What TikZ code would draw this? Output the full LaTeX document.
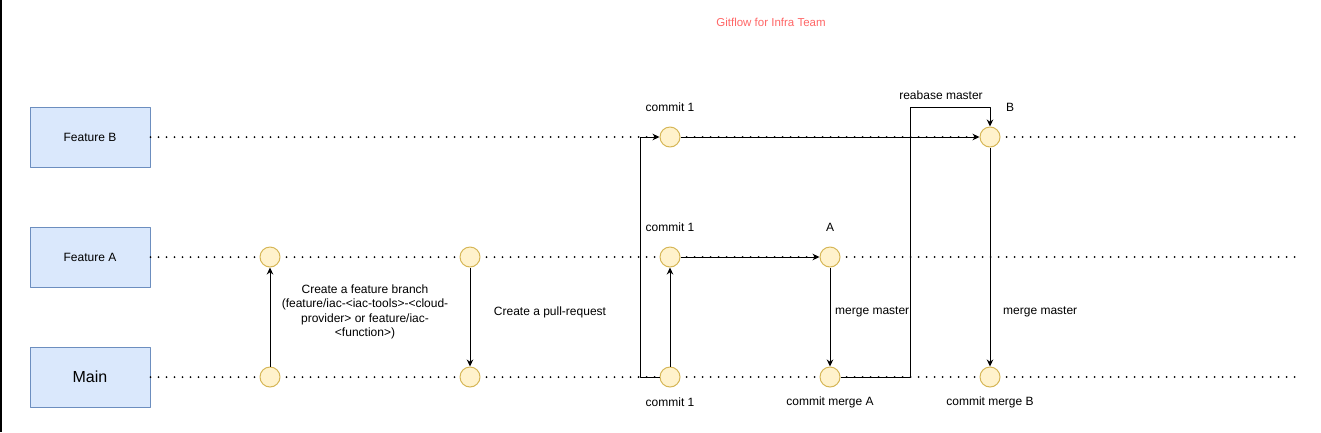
\documentclass[tikz,border=0pt]{standalone}
\usepackage{fontspec}
\setmainfont{Liberation Sans}
\usetikzlibrary{arrows.meta}
\definecolor{laneblue}{HTML}{DAE8FC}
\definecolor{laneedge}{HTML}{6C8EBF}
\definecolor{dotfill}{HTML}{FFF2CC}
\definecolor{dotedge}{HTML}{D6B656}
\definecolor{titlered}{HTML}{FF6666}
\begin{document}
\begin{tikzpicture}[x=1pt, y=-1pt, font=\fontsize{12}{14.4}\selectfont, line join=round, >={Stealth[length=7pt, width=6.5pt]},
  lane/.style={draw=laneedge, fill=laneblue, line width=1pt, minimum width=120pt, minimum height=60pt, inner sep=0pt},
  cmt/.style={circle, draw=dotedge, fill=dotfill, line width=1pt, minimum size=20pt, inner sep=0pt},
  track/.style={line width=2pt, line cap=round, dash pattern=on 0pt off 8pt},
  flow/.style={->, line width=1pt},
  lbl/.style={inner sep=0pt, align=center}]
\useasboundingbox (0,0) rectangle (1321,432);
\draw[line width=1.5pt] (0.75,0) -- (0.75,432);
\node[lbl, text=titlered, font=\fontsize{11.5}{14}\selectfont] (title) at (771,22) {Gitflow for Infra Team};
\node[lane] (fb) at (90,137) {Feature B};
\node[lane] (fa) at (90,257) {Feature A};
\node[lane, font=\fontsize{16}{19}\selectfont] (mn) at (90,377) {Main};
\coordinate (eB) at (1300,137);
\coordinate (eA) at (1300,257);
\coordinate (eM) at (1300,377);
\draw[track] (fb.east) -- (eB);
\draw[track] (fa.east) -- (eA);
\draw[track] (mn.east) -- (eM);
\node[cmt] (a1) at (270,257) {};
\node[cmt] (a2) at (470,257) {};
\node[cmt] (a3) at (670,257) {};
\node[cmt] (a4) at (830,257) {};
\node[cmt] (m1) at (270,377) {};
\node[cmt] (m2) at (470,377) {};
\node[cmt] (m3) at (670,377) {};
\node[cmt] (m4) at (830,377) {};
\node[cmt] (m5) at (990,377) {};
\node[cmt] (b1) at (670,137) {};
\node[cmt] (b2) at (990,137) {};
\coordinate (k1) at (640,377);
\coordinate (k2) at (910,377);
\coordinate (k3) at (910,107);
\draw[flow] (m1) -- (a1);
\draw[flow] (a2) -- (m2);
\draw[flow] (m3) -- (a3);
\draw[flow] (a3) -- (a4);
\draw[flow] (a4) -- (m4);
\draw[flow] (m3.west) -- (k1) |- (b1.west);
\draw[flow] (b1) -- (b2);
\draw[flow] (m4.east) -- (k2) -- (k3) -| (b2.north);
\draw[flow] (b2) -- (m5);
\node[lbl] (t1) at (365,312) {Create a feature branch\\(feature/iac-<iac-tools>-<cloud-\\provider> or feature/iac-\\<function>)};
\node[lbl] (t2) at (550,312) {Create a pull-request};
\node[lbl] (t3) at (670,107) {commit 1};
\node[lbl] (t4) at (670,227) {commit 1};
\node[lbl] (t5) at (670,402) {commit 1};
\node[lbl] (t6) at (830,227) {A};
\node[lbl] (t7) at (1010,107) {B};
\node[lbl] (t8) at (941,95) {reabase master};
\node[lbl, anchor=west] (t9) at (835,312) {merge master};
\node[lbl, anchor=west] (t10) at (1003,312) {merge master};
\node[lbl] (t11) at (830,402) {commit merge A};
\node[lbl] (t12) at (990,402) {commit merge B};
\end{tikzpicture}
\end{document}
